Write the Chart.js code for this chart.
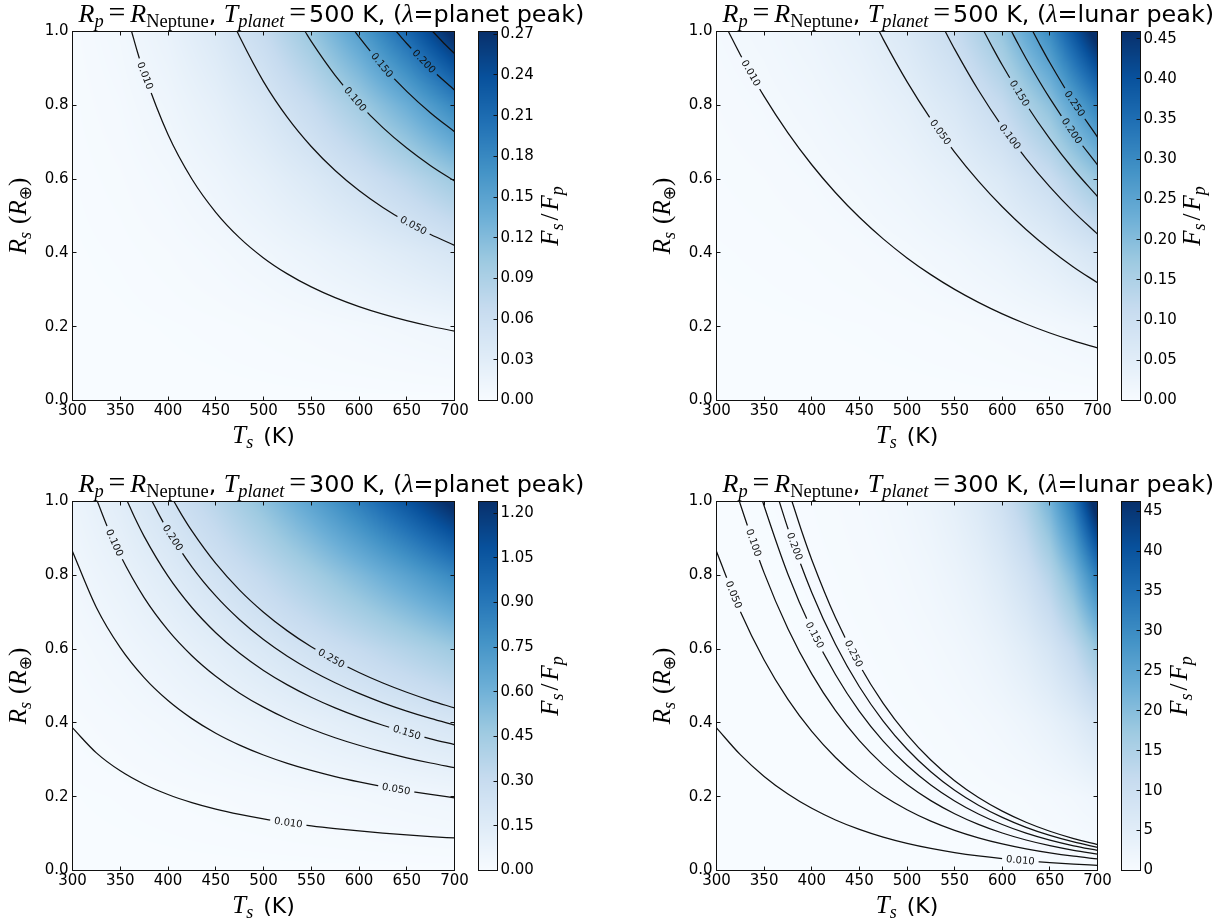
<!DOCTYPE html>
<html>
<head>
<meta charset="utf-8">
<title>Fs/Fp maps</title>
<script src="https://cdn.jsdelivr.net/npm/chart.js@4.4.1/dist/chart.umd.min.js"></script>
<style>
  html, body { margin:0; padding:0; background:#ffffff; }
  #fig { position:relative; width:1228px; height:923px; overflow:hidden; background:#ffffff; }
  #fig canvas { position:absolute; }
</style>
</head>
<body>
<div id="fig"></div>
<script>
// ================= DATA =================
const xTicks = [300, 350, 400, 450, 500, 550, 600, 650, 700];
const yTicks = [0.0, 0.2, 0.4, 0.6, 0.8, 1.0];
const levels = [0.010, 0.050, 0.100, 0.150, 0.200, 0.250];

const tPlanets  = [500, 500, 300, 300];
const peakNames = ['planet peak', 'lunar peak', 'planet peak', 'lunar peak'];

const cbTicksA = [0.00, 0.03, 0.06, 0.09, 0.12, 0.15, 0.18, 0.21, 0.24, 0.27];
const cbTicksB = [0.00, 0.05, 0.10, 0.15, 0.20, 0.25, 0.30, 0.35, 0.40, 0.45];
const cbTicksC = [0.00, 0.15, 0.30, 0.45, 0.60, 0.75, 0.90, 1.05, 1.20];
const cbTicksD = [0, 5, 10, 15, 20, 25, 30, 35, 40, 45];
const cbMax    = [0.272, 0.459, 1.239, 46.2];

// heat-map samples: rows = Rs values, columns = Ts values
const heatR   = [0.0, 0.2, 0.4, 0.6, 0.8, 1.0];
const heatT50 = [300, 350, 400, 450, 500, 550, 600, 650, 700];
const heatT25 = [300, 325, 350, 375, 400, 425, 450, 475, 500, 525, 550, 575, 600, 625, 650, 675, 700];

const heatA = [
  [0, 0, 0, 0, 0, 0, 0, 0, 0],
  [0.0001, 0.0003, 0.0008, 0.0015, 0.0027, 0.0042, 0.0062, 0.0085, 0.0113],
  [0.0004, 0.0013, 0.0031, 0.0062, 0.0107, 0.0169, 0.0247, 0.0342, 0.0452],
  [0.0009, 0.0029, 0.0069, 0.0138, 0.0241, 0.0380, 0.0556, 0.0769, 0.1018],
  [0.0016, 0.0051, 0.0123, 0.0246, 0.0428, 0.0676, 0.0989, 0.1368, 0.1810],
  [0.0024, 0.0079, 0.0192, 0.0384, 0.0669, 0.1055, 0.1545, 0.2137, 0.2827]
];
const heatB = [
  [0, 0, 0, 0, 0, 0, 0, 0, 0],
  [0.0004, 0.0006, 0.0010, 0.0016, 0.0027, 0.0044, 0.0073, 0.0119, 0.0196],
  [0.0014, 0.0024, 0.0039, 0.0065, 0.0107, 0.0176, 0.0290, 0.0478, 0.0785],
  [0.0032, 0.0053, 0.0088, 0.0146, 0.0241, 0.0397, 0.0653, 0.1075, 0.1766],
  [0.0056, 0.0094, 0.0157, 0.0260, 0.0428, 0.0706, 0.1162, 0.1910, 0.3140],
  [0.0088, 0.0147, 0.0245, 0.0406, 0.0669, 0.1103, 0.1815, 0.2985, 0.4907]
];
const heatC = [
  [0, 0, 0, 0, 0, 0, 0, 0, 0],
  [0.0027, 0.0055, 0.0094, 0.0144, 0.0204, 0.0272, 0.0347, 0.0429, 0.0515],
  [0.0107, 0.0219, 0.0377, 0.0578, 0.0816, 0.1089, 0.1389, 0.1715, 0.2061],
  [0.0241, 0.0494, 0.0849, 0.1300, 0.1837, 0.2450, 0.3126, 0.3858, 0.4637],
  [0.0428, 0.0877, 0.1509, 0.2311, 0.3266, 0.4355, 0.5558, 0.6858, 0.8243],
  [0.0669, 0.1371, 0.2357, 0.3611, 0.5103, 0.6804, 0.8684, 1.0716, 1.2880]
];
const heatD = [
  [0, 0, 0, 0, 0, 0, 0, 0, 0, 0, 0, 0, 0, 0, 0, 0, 0],
  [0.0027, 0.0041, 0.0061, 0.0093, 0.0141, 0.0213, 0.0323, 0.0488, 0.0738, 0.1117, 0.1689, 0.2555, 0.3864, 0.5844, 0.8839, 1.3370, 2.0222],
  [0.0107, 0.0162, 0.0246, 0.0372, 0.0564, 0.0853, 0.1290, 0.1952, 0.2953, 0.4467, 0.6756, 1.0219, 1.5456, 2.3378, 3.5355, 5.3482, 8.0888],
  [0.0241, 0.0365, 0.0553, 0.0838, 0.1268, 0.1919, 0.2903, 0.4392, 0.6644, 1.0050, 1.5202, 2.2994, 3.4776, 5.2600, 7.9549, 12.033, 18.200],
  [0.0428, 0.0650, 0.0984, 0.1490, 0.2254, 0.3412, 0.5161, 0.7808, 1.1811, 1.7866, 2.7025, 4.0877, 6.1823, 9.3510, 14.142, 21.393, 32.355],
  [0.0669, 0.1015, 0.1537, 0.2328, 0.3523, 0.5331, 0.8065, 1.2200, 1.8455, 2.7916, 4.2227, 6.3871, 9.6599, 14.611, 22.097, 33.426, 50.555]
];

// contour lines (one pair of Ts / Rs lists per level, same order as `levels`)
const contA_T = [
  [361.9, 368, 375, 400, 425, 450, 475, 500, 525, 550, 575, 600, 625, 650, 675, 700],
  [472.4, 475, 500, 525, 550, 575, 600, 625, 650, 675, 700],
  [543.6, 550, 575, 600, 625, 650, 675, 700],
  [595.8, 600, 625, 650, 675, 700],
  [639.1, 645, 650, 675, 700],
  [677.2, 690, 700]
];
const contA_R = [
  [1, 0.9445, 0.8867, 0.7208, 0.6003, 0.5101, 0.4408, 0.3865, 0.3431, 0.3078, 0.2787, 0.2544, 0.2339, 0.2163, 0.2012, 0.1881],
  [1, 0.9857, 0.8643, 0.7672, 0.6883, 0.6232, 0.5689, 0.5229, 0.4837, 0.4499, 0.4205],
  [1, 0.9734, 0.8814, 0.8045, 0.7395, 0.6840, 0.6363, 0.5947],
  [1, 0.9853, 0.9057, 0.8378, 0.7792, 0.7284],
  [1, 0.9822, 0.9674, 0.8998, 0.8411],
  [1, 0.9655, 0.9403]
];
const contB_T = [
  [312.5, 325, 350, 375, 400, 425, 450, 475, 500, 525, 550, 575, 600, 625, 650, 675, 700],
  [470.9, 475, 500, 525, 550, 575, 600, 625, 650, 675, 700],
  [540.2, 550, 575, 600, 625, 650, 675, 700],
  [580.9, 590, 600, 625, 650, 675, 700],
  [609.8, 617, 625, 650, 675, 700],
  [632.2, 640, 650, 675, 700]
];
const contB_R = [
  [1, 0.9371, 0.8240, 0.7253, 0.6389, 0.5631, 0.4965, 0.4380, 0.3865, 0.3411, 0.3011, 0.2659, 0.2347, 0.2073, 0.1830, 0.1616, 0.1428],
  [1, 0.9794, 0.8643, 0.7628, 0.6734, 0.5945, 0.5249, 0.4635, 0.4093, 0.3614, 0.3192],
  [1, 0.9523, 0.8407, 0.7423, 0.6554, 0.5788, 0.5112, 0.4514],
  [1, 0.9556, 0.9091, 0.8028, 0.7089, 0.6260, 0.5529],
  [1, 0.9646, 0.9269, 0.8186, 0.7229, 0.6384],
  [1, 0.9618, 0.9152, 0.8082, 0.7138]
];
const contC_T = [
  [300, 325, 350, 375, 400, 425, 450, 475, 500, 525, 550, 575, 600, 625, 650, 675, 700],
  [300, 325, 350, 375, 400, 425, 450, 475, 500, 525, 550, 575, 600, 625, 650, 675, 700],
  [326.1, 337, 350, 375, 400, 425, 450, 475, 500, 525, 550, 575, 600, 625, 650, 675, 700],
  [357.5, 365, 375, 400, 425, 450, 475, 500, 525, 550, 575, 600, 625, 650, 675, 700],
  [383.5, 390, 400, 425, 450, 475, 500, 525, 550, 575, 600, 625, 650, 675, 700],
  [406.3, 415, 425, 450, 475, 500, 525, 550, 575, 600, 625, 650, 675, 700]
];
const contC_R = [
  [0.3865, 0.3188, 0.2701, 0.2338, 0.2060, 0.1841, 0.1664, 0.1520, 0.1400, 0.1299, 0.1212, 0.1138, 0.1073, 0.1016, 0.0966, 0.0921, 0.0881],
  [0.8643, 0.7128, 0.6040, 0.5228, 0.4606, 0.4116, 0.3721, 0.3399, 0.3130, 0.2904, 0.2711, 0.2544, 0.2400, 0.2272, 0.2160, 0.2060, 0.1970],
  [1, 0.9282, 0.8541, 0.7394, 0.6513, 0.5820, 0.5263, 0.4806, 0.4427, 0.4107, 0.3834, 0.3598, 0.3394, 0.3214, 0.3055, 0.2913, 0.2786],
  [1, 0.9571, 0.9055, 0.7977, 0.7128, 0.6445, 0.5886, 0.5422, 0.5030, 0.4695, 0.4407, 0.4156, 0.3936, 0.3741, 0.3568, 0.3413],
  [1, 0.9672, 0.9211, 0.8231, 0.7442, 0.6797, 0.6261, 0.5808, 0.5422, 0.5089, 0.4799, 0.4545, 0.4320, 0.4120, 0.3941],
  [1, 0.9611, 0.9203, 0.8321, 0.7599, 0.7000, 0.6494, 0.6062, 0.5690, 0.5366, 0.5081, 0.4830, 0.4606, 0.4406]
];
const contD_T = [
  [300, 325, 350, 375, 400, 425, 450, 475, 500, 525, 550, 575, 600, 625, 650, 675, 700],
  [300, 325, 350, 375, 400, 425, 450, 475, 500, 525, 550, 575, 600, 625, 650, 675, 700],
  [324.1, 325, 350, 375, 400, 425, 450, 475, 500, 525, 550, 575, 600, 625, 650, 675, 700],
  [348.5, 350, 375, 400, 425, 450, 475, 500, 525, 550, 575, 600, 625, 650, 675, 700],
  [365.9, 375, 400, 425, 450, 475, 500, 525, 550, 575, 600, 625, 650, 675, 700],
  [379.3, 390, 400, 425, 450, 475, 500, 525, 550, 575, 600, 625, 650, 675, 700]
];
const contD_R = [
  [0.3865, 0.3139, 0.2550, 0.2073, 0.1685, 0.1370, 0.1114, 0.0905, 0.0736, 0.0599, 0.0487, 0.0396, 0.0322, 0.0262, 0.0213, 0.0173, 0.0141],
  [0.8643, 0.7019, 0.5703, 0.4635, 0.3768, 0.3063, 0.2490, 0.2024, 0.1646, 0.1338, 0.1088, 0.0885, 0.0719, 0.0585, 0.0476, 0.0387, 0.0314],
  [1, 0.9926, 0.8065, 0.6554, 0.5328, 0.4331, 0.3521, 0.2863, 0.2328, 0.1893, 0.1539, 0.1251, 0.1017, 0.0827, 0.0673, 0.0547, 0.0445],
  [1, 0.9878, 0.8028, 0.6526, 0.5305, 0.4313, 0.3506, 0.2851, 0.2318, 0.1885, 0.1532, 0.1246, 0.1013, 0.0824, 0.0670, 0.0545],
  [1, 0.9269, 0.7535, 0.6125, 0.4980, 0.4049, 0.3292, 0.2677, 0.2176, 0.1770, 0.1439, 0.1170, 0.0951, 0.0774, 0.0629],
  [1, 0.9152, 0.8424, 0.6848, 0.5568, 0.4527, 0.3681, 0.2993, 0.2433, 0.1978, 0.1609, 0.1308, 0.1064, 0.0865, 0.0703]
];

// Ts position of each inline contour label (null = no label)
const labelT_A = [376, 657, 596, 624, 668, null];
const labelT_B = [336, 535, 608, 618, 673, 676];
const labelT_C = [526, 639, 344, 650, 405, 571];
const labelT_D = [619, 318, 339, 403, 382, 444];

// ================= STYLE / LAYOUT =================
const BLUES = [[247,251,255],[222,235,247],[198,219,239],[158,202,225],[107,174,214],
               [66,146,198],[33,113,181],[8,81,156],[8,48,107]];
function cmap(f) {
  f = Math.max(0, Math.min(1, f));
  const p = f * 8, i = Math.min(7, Math.floor(p)), t = p - i;
  const a = BLUES[i], b = BLUES[i + 1];
  return [a[0] + (b[0] - a[0]) * t, a[1] + (b[1] - a[1]) * t, a[2] + (b[2] - a[2]) * t];
}
const SERIF = '"Liberation Serif", "DejaVu Serif", serif';
const SANS = '"DejaVu Sans", sans-serif';
const fnt = (style, size, fam) => `${style} ${size}px ${fam}`;
const INK = '#000000';

Chart.defaults.font.family = 'DejaVu Sans';

const panels = [
  { key:'A', cx:0,   cy:0,   ch:461, yAxisW:72.5,  padTop:31.5, padBottom:20.5, padRight:159.5,
    heatT:heatT50, heat:heatA, contT:contA_T, contR:contA_R, labT:labelT_A, vmax:cbMax[0],
    cb:{cx:470,  cw:144, padL:8.5, axisW:100, padR:16.5, ticks:cbTicksA, dec:2, labX:88},
    titleX:6, ylabX:25.5, xlabY:443 },
  { key:'B', cx:614, cy:0,   ch:461, yAxisW:102.5, padTop:31.5, padBottom:20.5, padRight:130.5,
    heatT:heatT50, heat:heatB, contT:contB_T, contR:contB_R, labT:labelT_B, vmax:cbMax[1],
    cb:{cx:1114, cw:114, padL:7.5, axisW:80,  padR:7.5,  ticks:cbTicksB, dec:2, labX:86},
    titleX:6, ylabX:55.5, xlabY:443 },
  { key:'C', cx:0,   cy:461, ch:462, yAxisW:72.5,  padTop:40.5, padBottom:12.5, padRight:159.5,
    heatT:heatT50, heat:heatC, contT:contC_T, contR:contC_R, labT:labelT_C, vmax:cbMax[2],
    cb:{cx:470,  cw:144, padL:8.5, axisW:100, padR:16.5, ticks:cbTicksC, dec:2, labX:88},
    titleX:6, ylabX:25.5, xlabY:452 },
  { key:'D', cx:614, cy:461, ch:462, yAxisW:102.5, padTop:40.5, padBottom:12.5, padRight:130.5,
    heatT:heatT25, heat:heatD, contT:contD_T, contR:contD_R, labT:labelT_D, vmax:cbMax[3],
    cb:{cx:1114, cw:114, padL:7.5, axisW:80,  padR:7.5,  ticks:cbTicksD, dec:0, labX:73},
    titleX:6, ylabX:55.5, xlabY:452 }
];

// ================= helpers =================
function findIdx(arr, v) {
  const n = arr.length;
  if (v <= arr[0]) return [0, 0];
  if (v >= arr[n - 1]) return [n - 2, 1];
  let i = 0;
  while (v > arr[i + 1]) i++;
  return [i, (v - arr[i]) / (arr[i + 1] - arr[i])];
}
function segWidth(ctx, segs) {
  let w = 0;
  for (const s of segs) { if (s.gap) { w += s.gap; continue; } ctx.font = s.font; w += ctx.measureText(s.t).width; }
  return w;
}
function drawSegs(ctx, segs, x, y) {
  let cx = x;
  ctx.textAlign = 'left'; ctx.textBaseline = 'alphabetic';
  for (const s of segs) {
    if (s.gap) { cx += s.gap; continue; }
    ctx.font = s.font;
    ctx.fillText(s.t, cx, y + (s.dy || 0));
    cx += ctx.measureText(s.t).width;
  }
  return cx;
}
function titleSegs(k, tp, peak) {
  const M = 24 * k, S = 17 * k, T = 22 * k, sh = 4.5 * k, g = 4.5 * k;
  return [
    {t:'R', font:fnt('italic', M, SERIF)},
    {t:'p', font:fnt('italic', S, SERIF), dy:sh},
    {gap:g}, {t:'=', font:fnt('normal', M * 1.15, SERIF)}, {gap:g},
    {t:'R', font:fnt('italic', M, SERIF)},
    {t:'Neptune', font:fnt('normal', S, SERIF), dy:sh},
    {t:', ', font:fnt('normal', T, SANS)},
    {t:'T', font:fnt('italic', M, SERIF)},
    {t:'planet', font:fnt('italic', S, SERIF), dy:sh},
    {gap:g}, {t:'=', font:fnt('normal', M * 1.15, SERIF)}, {gap:g * 0.6},
    {t:tp + ' K, (', font:fnt('normal', T, SANS)},
    {t:'λ', font:fnt('italic', M, SERIF)},
    {t:'=' + peak + ')', font:fnt('normal', T, SANS)}
  ];
}
const xlabSegs = [
  {t:'T', font:fnt('italic', 25, SERIF)}, {t:'s', font:fnt('italic', 18, SERIF), dy:5},
  {gap:10}, {t:'(K)', font:fnt('normal', 22, SANS)}
];
const ylabSegs = [
  {t:'R', font:fnt('italic', 25, SERIF)}, {t:'s', font:fnt('italic', 18, SERIF), dy:5},
  {gap:8}, {t:'(', font:fnt('normal', 25, SERIF)}, {t:'R', font:fnt('italic', 25, SERIF)},
  {t:'⊕', font:fnt('normal', 17, SANS), dy:5}, {t:')', font:fnt('normal', 25, SERIF)}
];
const cblabSegs = [
  {t:'F', font:fnt('italic', 25, SERIF)}, {t:'s', font:fnt('italic', 18, SERIF), dy:5},
  {gap:3}, {t:'/', font:fnt('normal', 25, SERIF)}, {gap:3},
  {t:'F', font:fnt('italic', 25, SERIF)}, {t:'p', font:fnt('italic', 18, SERIF), dy:5}
];
let titleScale = null;

function drawHeat(chart, p) {
  const ctx = chart.ctx, a = chart.chartArea, xs = chart.scales.x, ys = chart.scales.y;
  const x0 = Math.round(a.left), x1 = Math.round(a.right), y0 = Math.round(a.top), y1 = Math.round(a.bottom);
  const w = x1 - x0, h = y1 - y0;
  const off = document.createElement('canvas'); off.width = w; off.height = h;
  const octx = off.getContext('2d'); const img = octx.createImageData(w, h);
  const cols = [];
  for (let i = 0; i < w; i++) cols.push(findIdx(p.heatT, xs.getValueForPixel(x0 + i + 0.5)));
  for (let j = 0; j < h; j++) {
    const [ri, rt] = findIdx(heatR, ys.getValueForPixel(y0 + j + 0.5));
    const r0 = p.heat[ri], r1 = p.heat[ri + 1];
    for (let i = 0; i < w; i++) {
      const [ti, tt] = cols[i];
      const v = (r0[ti] * (1 - tt) + r0[ti + 1] * tt) * (1 - rt) + (r1[ti] * (1 - tt) + r1[ti + 1] * tt) * rt;
      const c = cmap(v / p.vmax); const k = (j * w + i) * 4;
      img.data[k] = c[0]; img.data[k + 1] = c[1]; img.data[k + 2] = c[2]; img.data[k + 3] = 255;
    }
  }
  octx.putImageData(img, 0, 0);
  ctx.drawImage(off, x0, y0);
}

function labelGeom(chart, idx) {
  const ds = chart.data.datasets[idx];
  if (ds.labelT == null) return null;
  const pts = chart.getDatasetMeta(idx).data;
  const xp = chart.scales.x.getPixelForValue(ds.labelT);
  for (let k = 0; k < pts.length - 1; k++) {
    const a = pts[k], b = pts[k + 1];
    if (xp >= a.x && xp <= b.x) {
      const t = (b.x - a.x) ? (xp - a.x) / (b.x - a.x) : 0;
      const ctx = chart.ctx; ctx.font = fnt('normal', 10, SANS);
      return { x: xp, y: a.y + (b.y - a.y) * t, ang: Math.atan2(b.y - a.y, b.x - a.x),
               w: ctx.measureText(ds.labelText).width, text: ds.labelText };
    }
  }
  return null;
}

function mainPlugin(p, idx) {
  return {
    id: 'panel' + p.key,
    beforeDraw(chart) { drawHeat(chart, p); },
    beforeDatasetDraw(chart, args) {
      const g = labelGeom(chart, args.index);
      chart.$labs = chart.$labs || {};
      chart.$labs[args.index] = g;
      if (!g) return;
      const ctx = chart.ctx;
      ctx.save();
      ctx.beginPath();
      ctx.rect(0, 0, chart.width, chart.height);
      const hw = g.w / 2 + 4, hh = 7, c = Math.cos(g.ang), s = Math.sin(g.ang);
      const q = [[-hw, -hh], [hw, -hh], [hw, hh], [-hw, hh]].map(([u, v]) => [g.x + u * c - v * s, g.y + u * s + v * c]);
      ctx.moveTo(q[0][0], q[0][1]); for (let i = 1; i < 4; i++) ctx.lineTo(q[i][0], q[i][1]); ctx.closePath();
      ctx.clip('evenodd');
    },
    afterDatasetDraw(chart, args) {
      const g = chart.$labs && chart.$labs[args.index];
      if (!g) return;
      const ctx = chart.ctx;
      ctx.restore();
      ctx.save();
      ctx.translate(g.x, g.y); ctx.rotate(g.ang);
      ctx.font = fnt('normal', 10, SANS); ctx.fillStyle = '#111';
      ctx.textAlign = 'center'; ctx.textBaseline = 'middle';
      ctx.fillText(g.text, 0, 0.5);
      ctx.restore();
    },
    afterDraw(chart) {
      const ctx = chart.ctx, a = chart.chartArea, xs = chart.scales.x, ys = chart.scales.y;
      ctx.save();
      ctx.strokeStyle = '#111'; ctx.lineWidth = 1;
      ctx.strokeRect(a.left, a.top, a.right - a.left, a.bottom - a.top);
      ctx.beginPath();
      const TL = 4;
      for (const v of xTicks) {
        const px = Math.round(xs.getPixelForValue(v) - 0.5) + 0.5;
        ctx.moveTo(px, a.bottom); ctx.lineTo(px, a.bottom - TL);
        ctx.moveTo(px, a.top); ctx.lineTo(px, a.top + TL);
      }
      for (const v of yTicks) {
        const py = Math.round(ys.getPixelForValue(v) - 0.5) + 0.5;
        ctx.moveTo(a.left, py); ctx.lineTo(a.left + TL, py);
        ctx.moveTo(a.right, py); ctx.lineTo(a.right - TL, py);
      }
      ctx.stroke();
      ctx.fillStyle = INK;
      // title
      if (titleScale == null) titleScale = 506 / segWidth(ctx, titleSegs(1, 500, 'planet peak'));
      drawSegs(ctx, titleSegs(titleScale, tPlanets[idx], peakNames[idx]), a.left + p.titleX, a.top - 9.5);
      // x label
      const xc = (a.left + a.right) / 2;
      drawSegs(ctx, xlabSegs, xc - segWidth(ctx, xlabSegs) / 2, p.xlabY);
      // y label (rotated)
      const yc = (a.top + a.bottom) / 2;
      const wy = segWidth(ctx, ylabSegs);
      ctx.translate(p.ylabX, yc); ctx.rotate(-Math.PI / 2);
      drawSegs(ctx, ylabSegs, -wy / 2, 0);
      ctx.restore();
    }
  };
}

function colorbarPlugin(p) {
  return {
    id: 'cb' + p.key,
    beforeDraw(chart) {
      const ctx = chart.ctx, a = chart.chartArea, ys = chart.scales.y;
      const y0 = Math.round(a.top), y1 = Math.round(a.bottom);
      for (let y = y0; y < y1; y++) {
        const c = cmap(ys.getValueForPixel(y + 0.5) / p.vmax);
        ctx.fillStyle = `rgb(${Math.round(c[0])},${Math.round(c[1])},${Math.round(c[2])})`;
        ctx.fillRect(a.left, y, a.right - a.left, 1);
      }
    },
    afterDraw(chart) {
      const ctx = chart.ctx, a = chart.chartArea, ys = chart.scales.y;
      ctx.save();
      ctx.strokeStyle = '#111'; ctx.lineWidth = 1;
      ctx.strokeRect(a.left, a.top, a.right - a.left, a.bottom - a.top);
      ctx.beginPath();
      for (const v of p.cb.ticks) {
        const py = Math.round(ys.getPixelForValue(v) - 0.5) + 0.5;
        ctx.moveTo(a.right, py); ctx.lineTo(a.right - 4, py);
      }
      ctx.stroke();
      ctx.fillStyle = INK;
      const w = segWidth(ctx, cblabSegs);
      ctx.translate(p.cb.labX, (a.top + a.bottom) / 2); ctx.rotate(-Math.PI / 2);
      drawSegs(ctx, cblabSegs, -w / 2, 0);
      ctx.restore();
    }
  };
}

const fig = document.getElementById('fig');
function addCanvas(x, y, w, h) {
  const c = document.createElement('canvas');
  c.width = w; c.height = h;
  c.style.left = x + 'px'; c.style.top = y + 'px'; c.style.width = w + 'px'; c.style.height = h + 'px';
  fig.appendChild(c);
  return c;
}

const tickFont = { family: 'DejaVu Sans', size: 15 };

panels.forEach((p, idx) => {
  // ---- main panel ----
  const cv = addCanvas(p.cx, p.cy, 614, p.ch);
  const datasets = p.contT.map((T, i) => ({
    data: T.map((t, k) => ({ x: t, y: p.contR[i][k] })),
    showLine: true, borderColor: '#111', borderWidth: 1.25,
    pointRadius: 0, pointHoverRadius: 0, fill: false,
    cubicInterpolationMode: 'monotone',
    labelT: p.labT[i], labelText: levels[i].toFixed(3)
  }));
  new Chart(cv, {
    type: 'scatter',
    data: { datasets },
    options: {
      responsive: false, animation: false, devicePixelRatio: 1, events: [],
      layout: { padding: { left: 0, top: p.padTop, right: p.padRight, bottom: p.padBottom } },
      plugins: { legend: { display: false }, tooltip: { enabled: false }, title: { display: false } },
      scales: {
        x: {
          type: 'linear', position: 'bottom', min: 300, max: 700,
          afterBuildTicks: s => { s.ticks = xTicks.map(v => ({ value: v })); },
          afterFit: s => { s.height = 40; },
          grid: { display: false, drawTicks: false }, border: { display: false },
          ticks: { padding: 2, color: INK, font: tickFont, maxRotation: 0, minRotation: 0,
                   autoSkip: false, callback: v => String(v) }
        },
        y: {
          type: 'linear', position: 'left', min: 0, max: 1,
          afterBuildTicks: s => { s.ticks = yTicks.map(v => ({ value: v })); },
          afterFit: s => { s.width = p.yAxisW; },
          grid: { display: false, drawTicks: false }, border: { display: false },
          ticks: { padding: 4, color: INK, font: tickFont, autoSkip: false,
                   callback: v => Number(v).toFixed(1) }
        }
      }
    },
    plugins: [mainPlugin(p, idx)]
  });

  // ---- colorbar ----
  const cb = p.cb;
  const cc = addCanvas(cb.cx, p.cy, cb.cw, p.ch);
  new Chart(cc, {
    type: 'scatter',
    data: { datasets: [] },
    options: {
      responsive: false, animation: false, devicePixelRatio: 1, events: [],
      layout: { padding: { left: cb.padL, top: p.padTop, right: cb.padR, bottom: p.padBottom + 40 } },
      plugins: { legend: { display: false }, tooltip: { enabled: false } },
      scales: {
        x: { display: false, min: 0, max: 1 },
        y: {
          type: 'linear', position: 'right', min: 0, max: p.vmax,
          afterBuildTicks: s => { s.ticks = cb.ticks.map(v => ({ value: v })); },
          afterFit: s => { s.width = cb.axisW; },
          grid: { display: false, drawTicks: false }, border: { display: false },
          ticks: { padding: 3, color: INK, font: tickFont, autoSkip: false,
                   callback: v => Number(v).toFixed(cb.dec) }
        }
      }
    },
    plugins: [colorbarPlugin(p)]
  });
});
</script>
</body>
</html>
